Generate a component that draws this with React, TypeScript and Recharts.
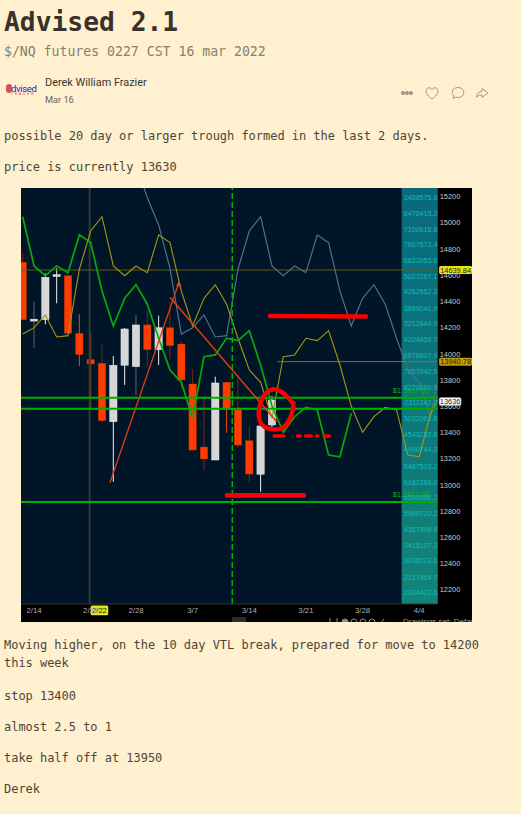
import React from "react";
import { ComposedChart, Bar, Line, Scatter, XAxis, YAxis, ReferenceLine, ReferenceArea } from "recharts";

const days = ["2/11","2/14","2/15","2/16","2/17","2/18","2/21","2/23","2/24","2/25","2/28","3/1","3/2","3/3","3/4","3/7","3/8","3/9","3/10","3/11","3/14","3/15","3/16"];
const opens = [14699,14250,14261,14590,14597,14157,13956,13928,13482,13913,13902,14221,14032,14200,14075,13770,13289,13190,13783,13572,13337,13081,13457];
const closes = [14261,14265,14585,14605,14157,13994,13923,13490,13913,14190,14221,14032,14200,14063,13801,13266,13198,13778,13577,13304,13083,13450,13648];
const highs = [14768,14398,14615,14653,14597,14302,14157,14068,13984,14198,14297,14330,14292,14398,14089,13885,13661,13826,13783,13839,13444,13450,13680];
const lows = [14255,14043,14226,14386,14157,13908,13587,13475,13024,13763,13686,13902,13915,13961,13737,13266,13108,13190,13398,13284,13017,12948,13440];
const greyWicks = [1, 10];
const brightWicks = [5, 6, 18];

const greenLine = [15047,14671,14597,14671,14620,14908,14849,14480,14213,14424,14528,14379,14119,13877,13783,13511,13979,13992,14119,14101,14177,13915,13602,13401,13521,13592,13572,13228,13215,13546];
const oliveLine = [14152,14200,14297,14129,14139,14646,14938,15047,14671,14597,14671,14620,14908,14849,14480,14213,14424,14528,14379,14119,13877,13783,13511,13979,13992,14119,14101,14177,13915,13602,13401,13521,13592,13572,13228,13215,13546,13700];
const blueStart = 10;
const blueLine = [15450,15192,14984,14653,14152,14200,14297,14129,14139,14646,14938,15047,14671,14597,14671,14620,14908,14849,14480,14213,14424,14528,14379,14119,13877,13783,13511,13979];

const xTickIndex = [1, 6, 10, 15, 20, 25, 30, 35];
const xTickLabels = ["2/14", "2/21", "2/28", "3/7", "3/14", "3/21", "3/28", "4/4"];
const yTicks = [12200,12400,12600,12800,13000,13200,13400,13600,13800,14000,14200,14400,14600,14800,15000,15200];

const volumeLabels = ["3408575.6","6470415.2","7100616.8","7607573.4","6622053.6","5027267.1","4262552.3","3689041.9","3212844.9","4204458.7","6676807.9","7057942.5","8270260.9","2311342.2","5032061.6","4543232.6","4990744.3","5487503.2","6182288.0","6580956.2","5960720.2","4357398.8","3415107.3","3036223.6","2217454.7","2304422.6"];
const volumePrices = [15195,15073,14951,14834,14709,14589,14475,14348,14228,14108,13986,13864,13745,13630,13503,13381,13266,13139,13020,12902,12778,12656,12539,12419,12295,12177];

const circleX = [23.83,23.3,22.71,22.12,21.54,21.09,20.83,20.95,21.39,22.12,22.86,23.44,23.8,23.9];
const circleY = [13623,13679,13717,13730,13704,13648,13559,13482,13440,13424,13432,13482,13559,13625];
const riseX = [7.7, 13.77];
const riseY = [13017, 14539];
const fallX = [13, 22.42];
const fallY = [14432, 13482];
const targetX = [21.83, 30.3];
const targetY = [14289, 14285];
const floorX = [18.03, 24.83];
const floorY = [12920, 12920];
const stopX = [22.2,23.05,23.6,24.25,24.5,24.7,24.97,25.47,25.7,25.95,26.05,26.3,26.62,27.05];
const stopY = [13373,13373,null,13373,13373,null,13373,13373,null,13373,13373,null,13373,13373];
const pivotX = [22.5, 36.63];
const pivotY = [13940.78, 13940.78];

const zip = (xs: number[], ys: (number | null)[]) => xs.map((x, i) => ({ x, y: ys[i] }));

const table = Array.from({ length: 38 }, (_, i) => ({
  x: i,
  day: days[i],
  open: opens[i],
  close: closes[i],
  high: highs[i],
  low: lows[i],
  green: greenLine[i] ?? null,
  olive: oliveLine[i] ?? null,
  blue: i >= blueStart ? blueLine[i - blueStart] ?? null : null,
}));
const volumeRows = volumeLabels.map((label, i) => ({ x: 36.6, price: volumePrices[i], label }));

const PAGE = "#fff0cf";
const SANS = "'Liberation Sans', Arial, sans-serif";
const MONO = "'DejaVu Sans Mono', monospace";
const BODY = "#4d4638";

const Candle = (p: any) => {
  const { x, y, width, height, payload, index } = p;
  if (payload.high == null) return <g />;
  const k = height / (payload.high - payload.low);
  const py = (v: number) => y + (payload.high - v) * k;
  const up = payload.close >= payload.open;
  const top = py(Math.max(payload.open, payload.close));
  const bot = py(Math.min(payload.open, payload.close));
  const cx = x + width / 2;
  const wick = greyWicks.includes(index)
    ? "#5a6670"
    : up ? "#eeeeee" : brightWicks.includes(index) ? "#f04a10" : "#74291a";
  return (
    <g>
      <line x1={cx} x2={cx} y1={y} y2={y + height} stroke={wick} strokeWidth={1} />
      <rect x={cx - 3.7} y={top} width={7.4} height={Math.max(bot - top, 1.6)} fill={up ? "#d6d6d6" : "#ff3c00"} stroke={up ? "#f4f4f4" : "#c83200"} strokeWidth={0.4} />
    </g>
  );
};

const VolumeText = (p: any) => (
  <text x={p.cx} y={p.cy + 2.4} textAnchor="end" fontSize={7.1} fontFamily={SANS} fill="#1ab8bc">{p.payload.label}</text>
);

const Pill = ({ viewBox, text, bg, color, w, border }: any) => {
  const x = viewBox.x + viewBox.width + 1.4;
  const y = viewBox.y;
  return (
    <g>
      <rect x={x} y={y - 4} width={w} height={8} rx={1.5} fill={bg} stroke={border || "none"} strokeWidth={0.5} />
      <text x={x + w / 2} y={y + 2.6} textAnchor="middle" fontSize={7.4} fontFamily={SANS} fill={color}>{text}</text>
    </g>
  );
};

const LevelText = ({ viewBox, text, dy }: any) => (
  <text x={viewBox.x + viewBox.width - 45} y={viewBox.y + dy} fontSize={7.4} fontFamily={SANS} fill="#0cb018">{text}</text>
);

const XPill = ({ viewBox }: any) => {
  const x = viewBox.x + 1;
  const y = viewBox.y + viewBox.height + 1.6;
  return (
    <g>
      <rect x={x} y={y} width={17.6} height={9.6} rx={1.5} fill="#e8e410" />
      <text x={x + 8.8} y={y + 7.4} textAnchor="middle" fontSize={7.6} fontFamily={SANS} fill="#222">2/22</text>
    </g>
  );
};

const Arrow = (p: any) => {
  if (p.index !== 1) return <g key={p.index} />;
  return <path key={p.index} d={`M${p.cx} ${p.cy - 2}l-2.6 5h5.2z`} fill="#f04010" />;
};

const Txt = ({ x, base, size, color, bold, font, spacing, children }: any) => (
  <div style={{ position: "absolute", left: x, top: base - size * 0.846, fontSize: size, lineHeight: `${size}px`, color, fontWeight: bold ? 700 : 400, fontFamily: font || MONO, letterSpacing: spacing || 0, whiteSpace: "pre" }}>{children}</div>
);

const HeaderIcons = () => (
  <svg width={521} height={30} style={{ position: "absolute", left: 0, top: 78 }} fill="none" stroke="#a09a88" strokeWidth={1}>
    <circle cx={403} cy={15} r={1.6} fill="#a09a88" />
    <circle cx={407} cy={15} r={1.6} fill="#a09a88" />
    <circle cx={411} cy={15} r={1.6} fill="#a09a88" />
    <path d="M432 21c-4-3-6-5-6-8 0-2 1.500-3.200 3-3.200 1.300 0 2.400.7 3 2 .6-1.300 1.700-2 3-2 1.500 0 3 1.200 3 3.200 0 3-2 5-6 8z" />
    <path d="M458 9.500c3.400 0 5.800 2 5.800 5 0 2.900-2.400 5-5.800 5-.8 0-1.500-.1-2.200-.4l-2.600 1.500.6-2.800c-1-1-1.600-2.100-1.600-3.300 0-3 2.400-5 5.800-5z" />
    <path d="M482 10.500l6 4.500-6 4.500v-2.600c-2.500 0-4.300.8-5.500 2.600.3-3.800 2.300-6 5.500-6.300z" />
  </svg>
);

const BottomStrip = () => (
  <>
    <div style={{ position: "absolute", left: 211, top: 429, width: 14, height: 6, background: "#2c2c2c" }} />
    <svg width={80} height={6} style={{ position: "absolute", left: 304, top: 429 }} fill="none" stroke="#8a8a8a" strokeWidth={1}>
      <line x1={5} x2={5} y1={1} y2={6} />
      <line x1={12} x2={12} y1={1} y2={6} />
      <circle cx={20} cy={5} r={3} fill="#8a8a8a" />
      <circle cx={29} cy={5} r={3} />
      <circle cx={38} cy={5} r={3} />
      <circle cx={47} cy={5} r={3} />
      <path d="M56 6l3-4" />
    </svg>
    <div style={{ position: "absolute", left: 382, top: 429, fontSize: 8, lineHeight: "9px", fontFamily: SANS, color: "#9a9a9a", whiteSpace: "pre" }}>Drawings set: Default</div>
  </>
);

const redStroke = { stroke: "#fb0000", strokeLinecap: "round" as const, strokeLinejoin: "round" as const };

export default function App() {
  return (
    <div style={{ position: "absolute", left: 0, top: 0, width: 521, height: 814, background: PAGE, overflow: "hidden" }}>
      <Txt x={4} base={31.5} size={26.3} color="#38332a" bold>Advised 2.1</Txt>
      <Txt x={4} base={56} size={13.2} color="#85806f" spacing={-0.01}>{"$/NQ futures 0227 CST 16 mar 2022"}</Txt>

      <div style={{ position: "absolute", left: 6, top: 84, width: 6, height: 9, background: "#d8333a", borderRadius: 3, opacity: 0.85 }} />
      <div style={{ position: "absolute", left: 11, top: 84, fontSize: 9.5, lineHeight: "10px", fontFamily: "Roboto", color: "#2020d8", letterSpacing: -0.35 }}>dvised</div>
      <div style={{ position: "absolute", left: 11, top: 93, fontSize: 3, lineHeight: "3px", fontFamily: SANS, color: "#c83030", letterSpacing: 2 }}>TRADER</div>
      <Txt x={45} base={87.5} size={10.9} color="#3a3630" font="Roboto">Derek William Frazier</Txt>
      <Txt x={45} base={103} size={9.2} color="#6a665a" font="Roboto">Mar 16</Txt>
      <HeaderIcons />

      <Txt x={4} base={140} size={12} color={BODY} spacing={-0.03}>possible 20 day or larger trough formed in the last 2 days.</Txt>
      <Txt x={4} base={171} size={12} color={BODY} spacing={-0.03}>price is currently 13630</Txt>

      <div style={{ position: "absolute", left: 21, top: 188, width: 451, height: 434, background: "#000", overflow: "hidden" }}>
        <ComposedChart width={451} height={434} data={table} margin={{ top: 0, right: 0, bottom: 0, left: 0 }}>
          <defs>
            <linearGradient id="band" x1="0" y1="0" x2="0" y2="1">
              <stop offset="0" stopColor="#08697c" />
              <stop offset="1" stopColor="#138478" />
            </linearGradient>
          </defs>
          <XAxis
            dataKey="x"
            type="number"
            domain={[-0.15, 36.63]}
            allowDataOverflow
            ticks={xTickIndex}
            interval={0}
            tickFormatter={(v: number) => xTickLabels[xTickIndex.indexOf(v)]}
            height={18}
            tickLine={false}
            tickMargin={1}
            tick={{ fontSize: 7.8, fontFamily: SANS, fill: "#aab0b0", dy: -4 }}
            axisLine={{ stroke: "#333", strokeWidth: 1 }}
          />
          <YAxis
            orientation="right"
            type="number"
            domain={[12091, 15266]}
            allowDataOverflow
            ticks={yTicks}
            interval={0}
            width={34.3}
            tickLine={false}
            tickSize={0}
            tickMargin={2}
            axisLine={false}
            tick={{ fontSize: 7.4, fontFamily: SANS, fill: "#c8c8c8" }}
          />
          <ReferenceArea x1={-0.15} x2={36.63} y1={12091} y2={15266} fill="#011528" fillOpacity={1} stroke="none" />
          <ReferenceArea x1={33.45} x2={36.63} y1={12091} y2={15266} fill="url(#band)" fillOpacity={1} stroke="none" />

          <ReferenceLine x={5.91} stroke="#2e3b30" strokeWidth={2} label={<XPill />} />
          <ReferenceLine y={14639.84} stroke="#5f5b14" strokeWidth={1} label={<Pill text="14639.84" bg="#e8e410" color="#222" w={33} />} />
          <ReferenceLine y={13940.78} stroke="none" label={<Pill text="13940.78" bg="#c29a06" color="#222" w={33} />} />
          <ReferenceLine y={13636} stroke="none" label={<Pill text="13636" bg="#fff" color="#222" w={22} border="#888" />} />

          <Bar dataKey={(d: any) => (d.high == null ? null : [d.low, d.high])} barSize={8} shape={<Candle />} isAnimationActive={false} />

          <Line dataKey="blue" stroke="#4f7088" strokeWidth={1.2} dot={false} isAnimationActive={false} />
          <Line dataKey="olive" stroke="#a89612" strokeWidth={1.1} dot={false} isAnimationActive={false} />
          <Line dataKey="green" stroke="#0aa80a" strokeWidth={1.7} dot={false} isAnimationActive={false} />
          <Line data={zip(pivotX, pivotY)} dataKey="y" stroke="#8a7a10" strokeWidth={1} dot={false} isAnimationActive={false} />

          <Scatter data={volumeRows} dataKey="price" shape={<VolumeText />} isAnimationActive={false} />

          <ReferenceLine y={13666} stroke="#00b000" strokeWidth={2} label={<LevelText text="$1.3667.32" dy={-5} />} />
          <ReferenceLine y={13582} stroke="#00b000" strokeWidth={2} />
          <ReferenceLine y={12870} stroke="#00b000" strokeWidth={2} label={<LevelText text="$1.2862.98" dy={-5} />} />
          <ReferenceLine x={18.5} stroke="#00b000" strokeWidth={1.5} strokeDasharray="6 3" />

          <Line data={zip(riseX, riseY)} dataKey="y" stroke="#e03c10" strokeWidth={1.3} dot={<Arrow />} isAnimationActive={false} />
          <Line data={zip(fallX, fallY)} dataKey="y" stroke="#e03c10" strokeWidth={1.5} dot={false} isAnimationActive={false} />
          <Line data={zip(targetX, targetY)} dataKey="y" {...redStroke} strokeWidth={4.6} dot={false} isAnimationActive={false} />
          <Line data={zip(floorX, floorY)} dataKey="y" {...redStroke} strokeWidth={4.6} dot={false} isAnimationActive={false} />
          <Line data={zip(stopX, stopY)} dataKey="y" {...redStroke} strokeWidth={3.6} dot={false} isAnimationActive={false} />
          <Line data={zip(circleX, circleY)} dataKey="y" type="natural" {...redStroke} strokeWidth={4.4} dot={false} isAnimationActive={false} />
        </ComposedChart>
        <BottomStrip />
      </div>

      <Txt x={4} base={649} size={12} color={BODY} spacing={-0.03}>Moving higher, on the 10 day VTL break, prepared for move to 14200</Txt>
      <Txt x={4} base={667.5} size={12} color={BODY} spacing={-0.03}>this week</Txt>
      <Txt x={4} base={700} size={12} color={BODY} spacing={-0.03}>stop 13400</Txt>
      <Txt x={4} base={731} size={12} color={BODY} spacing={-0.03}>almost 2.5 to 1</Txt>
      <Txt x={4} base={762} size={12} color={BODY} spacing={-0.03}>take half off at 13950</Txt>
      <Txt x={4} base={793} size={12} color={BODY} spacing={-0.03}>Derek</Txt>
    </div>
  );
}
